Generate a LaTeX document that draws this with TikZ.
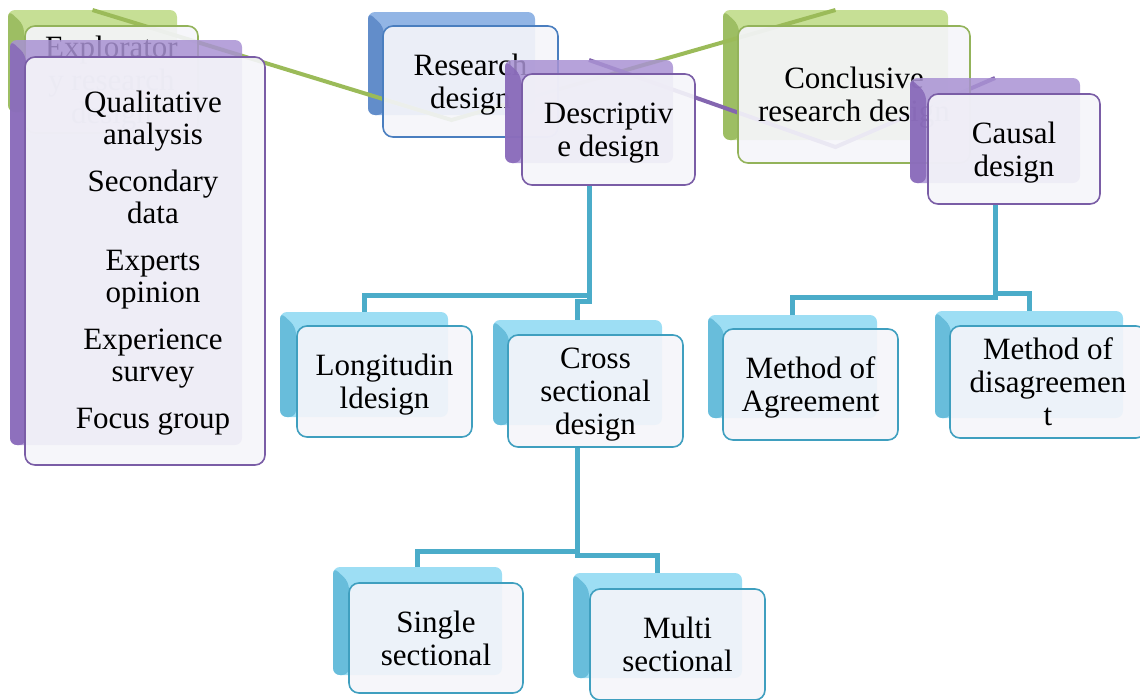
\documentclass[tikz,border=0pt]{standalone}
\usepackage{fontspec}
\setmainfont{Liberation Serif}
\usetikzlibrary{calc}

\definecolor{aquaBack}{HTML}{8CD8F2}
\definecolor{aquaFace}{HTML}{5FB7D7}
\definecolor{aquaEdge}{HTML}{3F9FBF}
\definecolor{aquaLine}{HTML}{4BACC9}
\definecolor{purpBack}{HTML}{A992D3}
\definecolor{purpFace}{HTML}{8768B8}
\definecolor{purpEdge}{HTML}{7A5DA6}
\definecolor{purpLine}{HTML}{8466B0}
\definecolor{grnBack}{HTML}{BCD982}
\definecolor{grnFace}{HTML}{97B85A}
\definecolor{grnEdge}{HTML}{93B35A}
\definecolor{grnLine}{HTML}{9BBB59}
\definecolor{bluBack}{HTML}{7FA8E0}
\definecolor{bluFace}{HTML}{5A86C6}
\definecolor{bluEdge}{HTML}{4A7EBF}
\definecolor{cardFill}{HTML}{F5F5FA}

\pgfdeclarelayer{backs}
\pgfdeclarelayer{links}
\pgfsetlayers{backs,links,main}

\begin{document}
\begin{tikzpicture}[x=1pt,y=-1pt,
  backbox/.style 2 args={rectangle, rounded corners=7pt, inner sep=0pt, outer sep=0pt,
    fill=#1, fill opacity=0.85, draw=none,
    path picture={\fill[#2]
      (path picture bounding box.north west)
      -- ([xshift=16pt,yshift=-15pt]path picture bounding box.north west)
      -- ([xshift=16pt]path picture bounding box.south west)
      -- (path picture bounding box.south west) -- cycle;}},
  frontbox/.style={rectangle, rounded corners=10pt, inner sep=0pt, outer sep=0pt,
    draw=#1, line width=1.6pt, fill=cardFill, fill opacity=0.91, text opacity=1,
    align=center, font=\fontsize{31}{33}\selectfont, text depth=0pt},
  aback/.style={backbox={aquaBack}{aquaFace}},
  pback/.style={backbox={purpBack}{purpFace}},
  gback/.style={backbox={grnBack}{grnFace}},
  bback/.style={backbox={bluBack}{bluFace}},
  afront/.style={frontbox=aquaEdge},
  pfront/.style={frontbox=purpEdge},
  gfront/.style={frontbox=grnEdge},
  bfront/.style={frontbox=bluEdge},
  conn/.style={draw=aquaLine, line width=5pt},
  gline/.style={draw=grnLine, line width=4pt},
  pline/.style={draw=purpLine, line width=4pt},
  wh/.style 2 args={minimum width=#1pt, minimum height=#2pt}
]
\useasboundingbox (0,0) rectangle (1140,699);
\clip (0,0) rectangle (1140,699);

% Back plates that sit below the connecting lines
\begin{pgfonlayer}{backs}
  \node[gback, wh={169}{102}] (expl-b) at (92.5,61) {};
  \node[bback, wh={167}{103}] (res-b) at (451.5,63.5) {};
  \node[gback, wh={225}{130}] (concl-b) at (835.5,75) {};
  \node[aback, wh={168}{105}] (long-b) at (364,364.5) {};
  \node[aback, wh={169}{105}] (cross-b) at (577.5,372.5) {};
  \node[aback, wh={169}{103}] (agree-b) at (792.5,366.5) {};
  \node[aback, wh={188}{107}] (dis-b) at (1029,364.5) {};
  \node[aback, wh={169}{108}] (single-b) at (417.5,621) {};
  \node[aback, wh={169}{105}] (multi-b) at (657.5,625.5) {};
\end{pgfonlayer}

% Exploratory research design and its list
\node[gfront, wh={173}{107}] (expl) at (111.5,79.5) {Explorator\\y research\\design};
\node[pback, wh={232}{405}] (qual-b) at (126,242.5) {};
\node[pfront, wh={240}{408}] (qual) at (145,261) {};
\node[align=center, font=\fontsize{31}{32}\selectfont] (qual-t) at (153,263)
  {Qualitative\\analysis\\[15pt]Secondary\\data\\[15pt]Experts\\opinion\\[15pt]Experience\\survey\\[15pt]Focus group};

% Research design
\node[bfront, wh={175}{111}] (res) at (470.5,81.5) {Research\\design};

% Descriptive design
\node[pback, wh={168}{103}] (desc-b) at (589,111.5) {};
\node[pfront, wh={173}{111}] (desc) at (608.5,129.5) {Descriptiv\\e design};

% Conclusive research design
\node[gfront, wh={232}{137}] (concl) at (854,94.5) {Conclusive\\research design};

% Causal design
\node[pback, wh={170}{105}] (caus-b) at (995,130.5) {};
\node[pfront, wh={172}{110}] (caus) at (1014,149) {Causal\\design};

% Children of Descriptive design
\node[afront, wh={175}{111}] (long) at (384.5,381.5) {Longitudin\\ldesign};
\node[afront, wh={175}{112}] (cross) at (595.5,391) {Cross\\sectional\\design};

% Children of Causal design
\node[afront, wh={175}{111}] (agree) at (810.5,384.5) {Method of\\Agreement};
\node[afront, wh={196}{112}] (dis) at (1048,382) {Method of\\disagreemen\\t};

% Children of Cross sectional design
\node[afront, wh={174}{110}] (single) at (436,638) {Single\\sectional};
\node[afront, wh={175}{111}] (multi) at (677.5,644.5) {Multi\\sectional};

% Connectors
\begin{pgfonlayer}{links}
  \draw[gline] (expl-b.north) -- ([yshift=-5pt]res-b.south) -- (concl-b.north);
  \draw[pline] (desc-b.north) -- ([yshift=-7pt]concl-b.south) -- (caus-b.north);

  \coordinate (drow) at (0,295);
  \coordinate (dj) at (desc-b.south |- drow);
  \draw[conn] (desc-b.south |- desc.south) -- (dj) -| (long-b.north);
  \draw[conn] (dj) -- ++(0,6) -| (cross-b.north);

  \coordinate (crowA) at (0,297);
  \coordinate (crowB) at (0,293);
  \coordinate (cjA) at (caus-b.south |- crowA);
  \coordinate (cjB) at (caus-b.south |- crowB);
  \draw[conn] (caus-b.south |- caus.south) -- (cjA) -| (agree-b.north);
  \draw[conn] (cjB) -| (dis-b.north);

  \coordinate (xrow) at (0,551);
  \coordinate (xj) at (cross-b.south |- xrow);
  \draw[conn] (cross-b.south |- cross.south) -- (xj) -| (single-b.north);
  \draw[conn] (xj) -- ++(0,4) -| (multi-b.north);
\end{pgfonlayer}
\end{tikzpicture}
\end{document}
